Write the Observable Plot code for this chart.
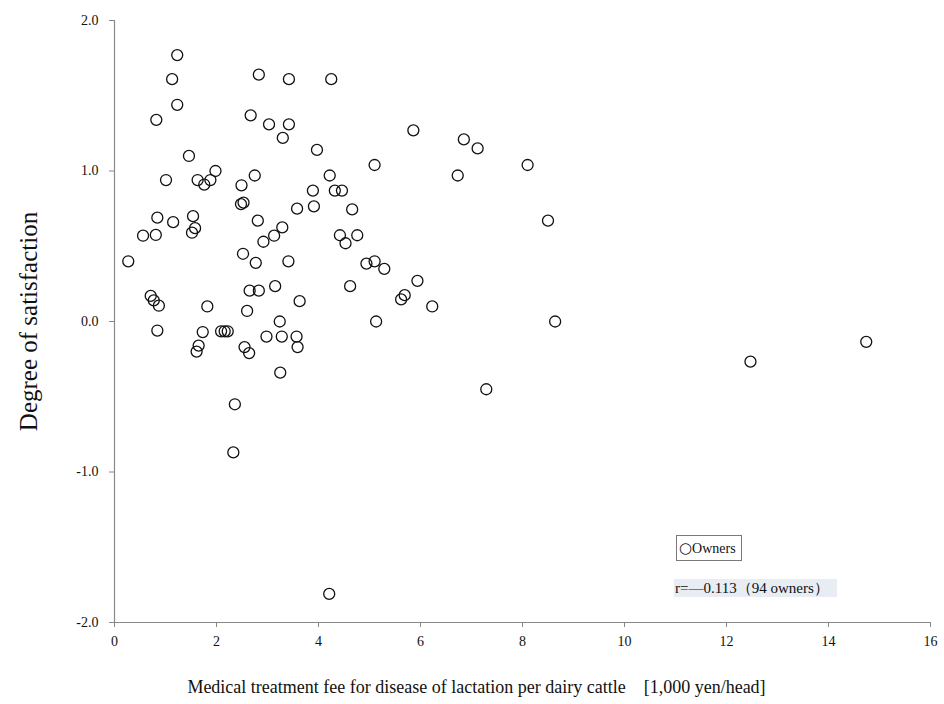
<!DOCTYPE html>
<html>
<head>
<meta charset="utf-8">
<script src="https://cdn.jsdelivr.net/npm/d3@7"></script>
<script src="https://cdn.jsdelivr.net/npm/@observablehq/plot@0.6"></script>
<style>
  html, body { margin: 0; padding: 0; background: #fff; }
  #wrap { position: relative; width: 944px; height: 704px; font-family: "Liberation Serif", "Times New Roman", serif; color: #111; }
  #wrap svg { display: block; }
  .legend { position: absolute; left: 676px; top: 535px; width: 66px; height: 26px; border: 1px solid #7a7a7a; box-sizing: border-box; font-size: 14px; line-height: 24px; padding-left: 2px; white-space: nowrap; background: #fff; }
  .legend .c { font-size: 15px; font-family: "DejaVu Sans", sans-serif; }
  .stat { position: absolute; left: 674px; top: 579px; width: 163px; height: 18px; background: #e8edf4; font-size: 15px; line-height: 18px; white-space: nowrap; padding-left: 1px; box-sizing: border-box; }
</style>
</head>
<body>
<div id="wrap"></div>
<script>
// Medical treatment fee for disease of lactation per dairy cattle [1,000 yen/head]
const fee = [
  1.23, 1.13, 1.23, 0.82, 2.83, 3.42, 4.25, 2.67, 3.03, 3.42,
  3.30, 1.46, 1.01, 1.63, 1.88, 1.98, 1.76, 2.49, 2.75, 2.48,
  2.53, 0.84, 1.15, 1.54, 1.58, 1.52, 0.56, 0.81, 2.81, 3.29,
  3.13, 2.92, 0.27, 2.52, 2.77, 3.41, 0.71, 0.77, 0.87, 1.82,
  2.65, 2.83, 3.15, 2.60, 3.24, 0.84, 1.73, 2.09, 2.16, 2.22,
  2.98, 3.28, 1.65, 1.61, 2.55, 2.64, 3.25, 2.36, 2.33, 3.57,
  3.59, 3.97, 5.86, 6.85, 7.12, 5.10, 6.73, 4.22, 3.89, 4.32,
  4.46, 3.58, 3.91, 4.66, 4.42, 4.53, 4.76, 4.94, 5.10, 5.29,
  4.62, 5.94, 5.69, 5.62, 6.23, 3.63, 5.13, 8.10, 8.50, 8.64,
  7.29, 14.74, 12.47, 4.21
];
// Degree of satisfaction
const satisfaction = [
  1.77, 1.61, 1.44, 1.34, 1.64, 1.61, 1.61, 1.37, 1.31, 1.31,
  1.22, 1.10, 0.94, 0.94, 0.94, 1.00, 0.91, 0.905, 0.97, 0.78,
  0.79, 0.69, 0.66, 0.70, 0.62, 0.59, 0.57, 0.575, 0.67, 0.625,
  0.57, 0.53, 0.40, 0.45, 0.39, 0.40, 0.17, 0.14, 0.105, 0.10,
  0.205, 0.205, 0.235, 0.07, 0.00, -0.06, -0.07, -0.065, -0.065, -0.065,
  -0.10, -0.10, -0.16, -0.20, -0.17, -0.21, -0.34, -0.55, -0.87, -0.10,
  -0.17, 1.14, 1.27, 1.21, 1.15, 1.04, 0.97, 0.97, 0.87, 0.87,
  0.87, 0.75, 0.765, 0.745, 0.573, 0.52, 0.573, 0.385, 0.40, 0.35,
  0.235, 0.27, 0.175, 0.147, 0.10, 0.135, 0.00, 1.04, 0.67, 0.00,
  -0.45, -0.135, -0.267, -1.81
];
const xTicks = [0, 2, 4, 6, 8, 10, 12, 14, 16];
const yTicks = [-2, -1, 0, 1, 2];
const xTitle = "Medical treatment fee for disease of lactation per dairy cattle\u00a0\u00a0\u00a0\u00a0[1,000\u00a0yen/head]";
const yTitle = "Degree of satisfaction";
const legendSymbol = "\u25cb";
const legendText = "Owners";
const statText = "r=\u20140.113\uff0894 owners\uff09";

const data = fee.map((f, i) => ({ fee: f, sat: satisfaction[i] }));

const chart = Plot.plot({
  width: 944,
  height: 704,
  marginLeft: 114,
  marginRight: 14,
  marginTop: 20,
  marginBottom: 82,
  x: { domain: [0, 16] },
  y: { domain: [-2, 2] },
  style: { fontFamily: "'Liberation Serif', 'Times New Roman', serif", fontSize: "14px", color: "#111", background: "#fff" },
  marks: [
    Plot.axisX({ ticks: xTicks, tickSize: 5, tickPadding: 9, stroke: "#888", fontSize: 14, label: null }),
    Plot.axisY({ ticks: yTicks, tickFormat: d => d.toFixed(1), tickSize: 5, tickPadding: 11, stroke: "#888", fontSize: 14, label: null }),
    Plot.ruleY([-2], { stroke: "#888", strokeWidth: 1.2 }),
    Plot.ruleX([0], { stroke: "#888", strokeWidth: 1.2 }),
    Plot.dot(data, { x: "fee", y: "sat", r: 5.5, stroke: "#111", strokeWidth: 1.3, fill: "none" }),
    Plot.text([xTitle], { frameAnchor: "bottom", dx: -46, dy: 70, fontSize: 18, fill: "#111", textAnchor: "middle" }),
    Plot.text([yTitle], { frameAnchor: "left", dx: -86, rotate: -90, fontSize: 25, fill: "#111", textAnchor: "middle" })
  ]
});

const wrap = document.getElementById("wrap");
wrap.appendChild(chart);
const lg = document.createElement("div");
lg.className = "legend";
const sym = document.createElement("span");
sym.className = "c";
sym.textContent = legendSymbol;
lg.appendChild(sym);
lg.appendChild(document.createTextNode(legendText));
wrap.appendChild(lg);
const st = document.createElement("div");
st.className = "stat";
st.textContent = statText;
wrap.appendChild(st);
</script>
</body>
</html>
